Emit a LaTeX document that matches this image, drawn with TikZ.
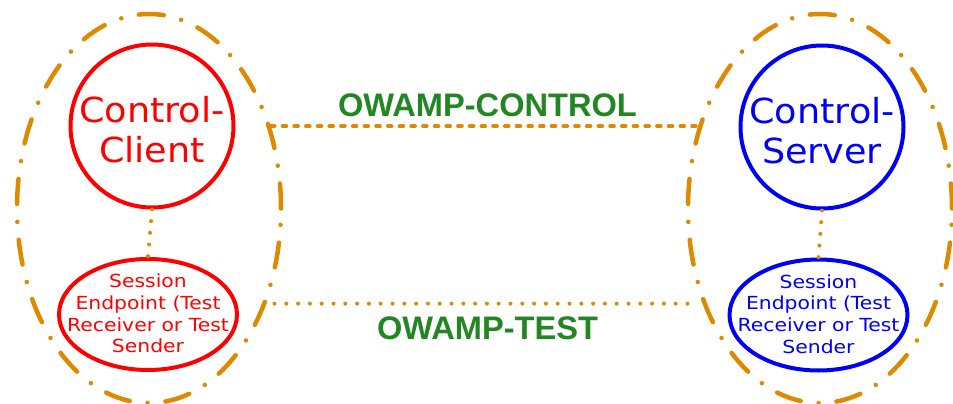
\documentclass[tikz,border=0pt]{standalone}
\usepackage{fontspec}
\setmainfont{DejaVu Sans}
\newfontfamily\owampfont{Liberation Sans}
\newfontfamily\rolefont[FakeStretch=1.06]{DejaVu Sans}
\newfontfamily\sessfont[FakeStretch=1.13]{DejaVu Sans}
\usetikzlibrary{shapes.geometric}

\definecolor{grouporange}{RGB}{222,138,0}
\definecolor{protogreen}{RGB}{34,134,34}
\definecolor{clientred}{RGB}{255,0,0}
\definecolor{serverblue}{RGB}{0,0,245}

\tikzset{
  hostgroup/.style={ellipse, draw=grouporange, line width=4.5pt, line cap=round,
    dash pattern=on 25pt off 18pt on 0pt off 18pt, inner sep=0pt,
    minimum width=264pt, minimum height=389pt},
  rolenode/.style={circle, line width=4pt, inner sep=0pt, minimum size=163pt},
  roletext/.style={align=center, inner sep=0pt,
    font=\rolefont\fontsize{34.5}{40}\selectfont},
  sessnode/.style={ellipse, line width=4pt, inner sep=0pt,
    minimum width=178pt, minimum height=111pt},
  sesstext/.style={align=center, inner sep=0pt,
    font=\sessfont\fontsize{18}{21.7}\selectfont},
  ctlline/.style={draw=grouporange, line width=4pt, line cap=round,
    dash pattern=on 3.6pt off 8.1pt},
  testline/.style={draw=grouporange, line width=4pt, line cap=round,
    dash pattern=on 0pt off 11.8pt},
  linkline/.style={draw=grouporange, line width=4pt, line cap=round,
    dash pattern=on 0pt off 11.7pt},
  protolabel/.style={anchor=base, text=protogreen,
    font=\owampfont\bfseries\fontsize{32.6}{36}\selectfont}
}

\begin{document}
\begin{tikzpicture}[x=1pt,y=-1pt]
\useasboundingbox (0,0) rectangle (953,404);

% host groupings
\node[hostgroup] (lgrp) at (149,208.5) {};
\node[hostgroup] (rgrp) at (820,208.5) {};

% control roles
\node[rolenode, draw=clientred] (client) at (152,126) {};
\node[roletext, text=clientred] (clienttext) at ([yshift=-4pt]client.center) {Control-\\Client};
\node[rolenode, draw=serverblue] (server) at (822,127) {};
\node[roletext, text=serverblue] (servertext) at ([yshift=-4pt]server.center) {Control-\\Server};

% session endpoints
\node[sessnode, draw=clientred] (lsess) at (148,314.5) {};
\node[sesstext, text=clientred] (lsesstext) at ([yshift=1pt]lsess.center)
  {Session\\Endpoint (Test\\Receiver or Test\\Sender};
\node[sessnode, draw=serverblue] (rsess) at (818.5,315) {};
\node[sesstext, text=serverblue] (rsesstext) at ([yshift=1pt]rsess.center)
  {Session\\Endpoint (Test\\Receiver or Test\\Sender};

% links inside each host
\draw[linkline] (client.south) -- (lsess.north);
\draw[linkline] (server.south) -- (rsess.north);

% protocol connections between hosts, kept level
\coordinate (ctlL) at (lgrp.34.6);
\coordinate (ctlR) at (rgrp.145.4 |- ctlL);
\coordinate (testL) at (lgrp.-39.3);
\coordinate (testR) at (rgrp.219.3 |- testL);
\draw[ctlline] (ctlL) -- (ctlR);
\draw[testline, shorten <=8pt, shorten >=6pt] (testL) -- (testR);

% protocol names
\node[protolabel] (ctllabel) at (487.5,116.5) {OWAMP-CONTROL};
\node[protolabel] (testlabel) at (487.5,339.5) {OWAMP-TEST};
\end{tikzpicture}
\end{document}
